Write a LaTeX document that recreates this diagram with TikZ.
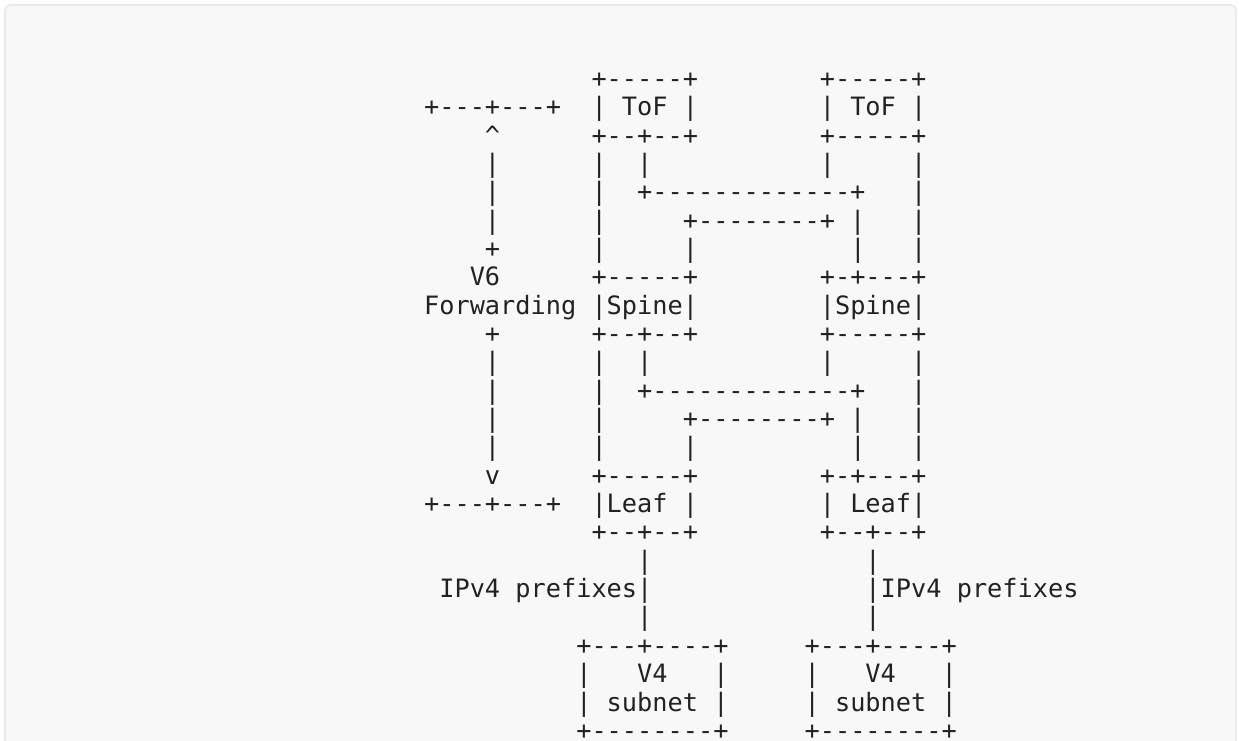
\documentclass[tikz,border=0pt]{standalone}
\usepackage{fontspec}
\setmonofont{DejaVu Sans Mono}
\definecolor{pagebg}{RGB}{248,248,248}
\definecolor{frameline}{RGB}{234,234,234}
\definecolor{ink}{RGB}{34,34,34}
\begin{document}
\begin{tikzpicture}[x=1pt,y=-1pt,
  ascii/.style={anchor=base west,inner sep=0pt,outer sep=0pt,text=ink,
    font=\ttfamily\fontsize{25.28}{28.35}\selectfont}]
\useasboundingbox (0,0) rectangle (1239,740);
\fill[white] (0,0) rectangle (1239,740);
\draw[frameline,line width=1.6pt,fill=pagebg,rounded corners=5pt] (5,5) rectangle (1236,770);
\def\cx{424.1}
\def\bl{87.3}
\def\dy{28.35}
\node[ascii] (r1)  at (\cx,\bl+0*\dy)  {~~~~~~~~~~~+-----+~~~~~~~~+-----+};
\node[ascii] (r2)  at (\cx,\bl+1*\dy)  {+---+---+~~|~ToF~|~~~~~~~~|~ToF~|};
\node[ascii] (r3)  at (\cx,\bl+2*\dy)  {~~~~\textasciicircum~~~~~~+--+--+~~~~~~~~+-----+};
\node[ascii] (r4)  at (\cx,\bl+3*\dy)  {~~~~|~~~~~~|~~|~~~~~~~~~~~|~~~~~|};
\node[ascii] (r5)  at (\cx,\bl+4*\dy)  {~~~~|~~~~~~|~~+-------------+~~~|};
\node[ascii] (r6)  at (\cx,\bl+5*\dy)  {~~~~|~~~~~~|~~~~~+--------+~|~~~|};
\node[ascii] (r7)  at (\cx,\bl+6*\dy)  {~~~~+~~~~~~|~~~~~|~~~~~~~~~~|~~~|};
\node[ascii] (r8)  at (\cx,\bl+7*\dy)  {~~~V6~~~~~~+-----+~~~~~~~~+-+---+};
\node[ascii] (r9)  at (\cx,\bl+8*\dy)  {Forwarding~|Spine|~~~~~~~~|Spine|};
\node[ascii] (r10) at (\cx,\bl+9*\dy)  {~~~~+~~~~~~+--+--+~~~~~~~~+-----+};
\node[ascii] (r11) at (\cx,\bl+10*\dy) {~~~~|~~~~~~|~~|~~~~~~~~~~~|~~~~~|};
\node[ascii] (r12) at (\cx,\bl+11*\dy) {~~~~|~~~~~~|~~+-------------+~~~|};
\node[ascii] (r13) at (\cx,\bl+12*\dy) {~~~~|~~~~~~|~~~~~+--------+~|~~~|};
\node[ascii] (r14) at (\cx,\bl+13*\dy) {~~~~|~~~~~~|~~~~~|~~~~~~~~~~|~~~|};
\node[ascii] (r15) at (\cx,\bl+14*\dy) {~~~~v~~~~~~+-----+~~~~~~~~+-+---+};
\node[ascii] (r16) at (\cx,\bl+15*\dy) {+---+---+~~|Leaf~|~~~~~~~~|~Leaf|};
\node[ascii] (r17) at (\cx,\bl+16*\dy) {~~~~~~~~~~~+--+--+~~~~~~~~+--+--+};
\node[ascii] (r18) at (\cx,\bl+17*\dy) {~~~~~~~~~~~~~~|~~~~~~~~~~~~~~|};
\node[ascii] (r19) at (\cx,\bl+18*\dy) {~IPv4~prefixes|~~~~~~~~~~~~~~|IPv4~prefixes};
\node[ascii] (r20) at (\cx,\bl+19*\dy) {~~~~~~~~~~~~~~|~~~~~~~~~~~~~~|};
\node[ascii] (r21) at (\cx,\bl+20*\dy) {~~~~~~~~~~+---+----+~~~~~+---+----+};
\node[ascii] (r22) at (\cx,\bl+21*\dy) {~~~~~~~~~~|~~~V4~~~|~~~~~|~~~V4~~~|};
\node[ascii] (r23) at (\cx,\bl+22*\dy) {~~~~~~~~~~|~subnet~|~~~~~|~subnet~|};
\node[ascii] (r24) at (\cx,\bl+23*\dy) {~~~~~~~~~~+--------+~~~~~+--------+};
\end{tikzpicture}
\end{document}
